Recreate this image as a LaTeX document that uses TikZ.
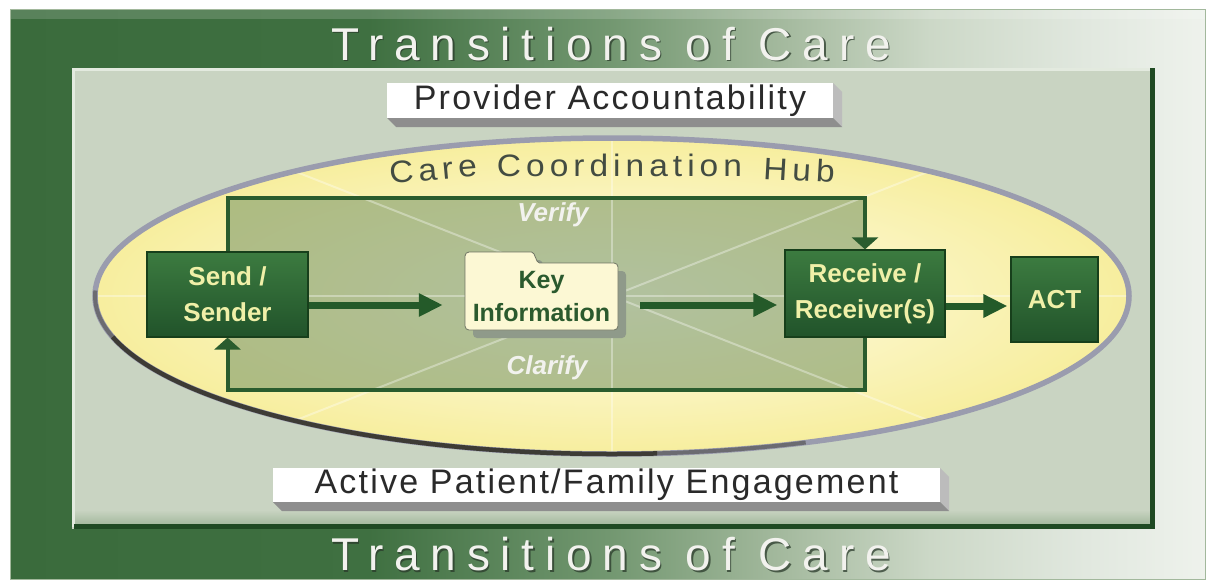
\documentclass[tikz,border=0pt]{standalone}
\usepackage{fontspec}
\setmainfont{Liberation Sans}
\newfontfamily\titlefont[LetterSpace=23.5]{Liberation Sans}
\newfontfamily\bannerfont[LetterSpace=6.5]{Liberation Sans}
\newfontfamily\hubfont[LetterSpace=15]{Liberation Sans}
\usetikzlibrary{arrows.meta}

% palette
\definecolor{fr0}{HTML}{3A6B3C}
\definecolor{fr1}{HTML}{3F7041}
\definecolor{fr2}{HTML}{729770}
\definecolor{fr3}{HTML}{A2B89C}
\definecolor{fr4}{HTML}{CCD8C7}
\definecolor{fr5}{HTML}{E1E8DF}
\definecolor{fr6}{HTML}{EEF2EC}
\definecolor{panel}{HTML}{C9D4C2}
\definecolor{panelhi}{HTML}{E3EADF}
\definecolor{paneldk}{HTML}{1F4A23}
\definecolor{ellin}{HTML}{FFFDEE}
\definecolor{ellout}{HTML}{F7EE9E}
\definecolor{loopfill}{HTML}{7E9A6B}
\definecolor{rimlight}{HTML}{9A9CAE}
\definecolor{rimdark}{HTML}{3D3B35}
\definecolor{loopln}{HTML}{2A5C2E}
\definecolor{arrowc}{HTML}{245A29}
\definecolor{gtop}{HTML}{3C7B40}
\definecolor{gbot}{HTML}{21532A}
\definecolor{gedge}{HTML}{173F1B}
\definecolor{gtext}{HTML}{F0F0A8}
\definecolor{keyfill}{HTML}{FCF8D4}
\definecolor{keyedge}{HTML}{6F7564}
\definecolor{keyshadow}{HTML}{8F9A8A}
\definecolor{keytext}{HTML}{2B5A2E}
\definecolor{slabr}{HTML}{BCBCBC}
\definecolor{slabb}{HTML}{8E8E8E}
\definecolor{labtext}{HTML}{2A2A2A}
\definecolor{hubtext}{HTML}{434C42}
\definecolor{titlec}{HTML}{F2F2EE}
\definecolor{titlesh}{HTML}{2A3A2B}

% frame: dark green on the left fading to pale on the right
\pgfdeclarehorizontalshading{framegrad}{100bp}{%
  color(0bp)=(fr0); color(25bp)=(fr0); color(40bp)=(fr1);
  color(50bp)=(fr2); color(57bp)=(fr3); color(63.5bp)=(fr4);
  color(70bp)=(fr5); color(75bp)=(fr6); color(100bp)=(fr6)}

\begin{document}
\begin{tikzpicture}[x=1pt,y=1pt,
  titletext/.style={text=titlec,font=\titlefont\fontsize{46}{46}\selectfont,anchor=base,inner sep=0pt},
  titleshadow/.style={titletext,text=titlesh,text opacity=.75},
  banner/.style={fill=white,inner sep=0pt,text=labtext,font=\bannerfont\fontsize{34}{34}\selectfont},
  hubword/.style={text=hubtext,font=\hubfont\fontsize{31}{31}\selectfont,anchor=base,inner sep=0pt,xscale=1.08},
  gbox/.style={top color=gtop,bottom color=gbot,draw=gedge,line width=1.2pt,
    text=gtext,font=\bfseries\fontsize{26}{36}\selectfont,align=center,inner sep=0pt},
  keytext/.style={text=keytext,font=\bfseries\fontsize{25}{33}\selectfont,align=center,inner sep=0pt},
  looplabel/.style={text=titlec,font=\bfseries\itshape\fontsize{26}{26}\selectfont,inner sep=0pt},
  bigarrow/.style={draw=arrowc,line width=7pt,-{Triangle[length=24pt,width=22pt]}},
  loopline/.style={draw=loopln,line width=4pt,-{Triangle[length=12pt,width=26pt]}},
  glint/.style={white,opacity=.35,line width=2pt}
]
\useasboundingbox (0,0) rectangle (1212,-581);
\fill[white] (0,0) rectangle (1212,-581);

% outer frame
\shade[shading=framegrad] (10,-9) rectangle (1205,-579);
\fill[white,opacity=.16] (10,-9) rectangle (1205,-19);
\draw[fr3,line width=1pt] (10,-9) rectangle (1205,-579);

% inner panel with bevelled edges
\fill[panel] (72,-68) rectangle (1155,-529);
\shade[top color=panel,bottom color=fr3] (74,-510) rectangle (1150,-525);
\draw[panelhi,line width=3pt] (73.5,-527) -- (73.5,-69.5) -- (1152,-69.5);
\draw[paneldk,line width=5pt] (1152.5,-68) -- (1152.5,-526.5) -- (74,-526.5);

% banner slabs
\fill[slabr] (833,-83) -- (842,-92) -- (842,-127) -- (833,-118) -- cycle;
\fill[slabb] (387,-118) -- (833,-118) -- (842,-127) -- (396,-127) -- cycle;
\node[banner,minimum width=446pt,minimum height=35pt] (prov) at (610,-100.5) {Provider Accountability};
\fill[slabr] (940,-468) -- (949,-477) -- (949,-511) -- (940,-502) -- cycle;
\fill[slabb] (273,-502) -- (940,-502) -- (949,-511) -- (282,-511) -- cycle;
\node[banner,minimum width=667pt,minimum height=34pt] (engage) at (606.5,-485) {Active Patient/Family Engagement};

% hub ellipse
\shade[inner color=ellin,outer color=ellout] (612,-296) ellipse [x radius=517,y radius=158];
\fill[loopfill,fill opacity=.6] (227.5,-199) rectangle (865,-389);
\begin{scope}
  \clip (612,-296) ellipse [x radius=515,y radius=156];
  \draw[glint] (192,-131) -- (1032,-461);
  \draw[glint] (192,-461) -- (1032,-131);
  \draw[glint] (95,-296) -- (1130,-296);
  \draw[glint] (612,-138) -- (612,-454);
\end{scope}
\draw[rimlight,line width=5.5pt] (612,-296) ellipse [x radius=517,y radius=158];
\draw[rimdark,line width=4pt,opacity=.5] ([shift={(612,-296)}]178:517 and 158) arc[start angle=178,end angle=195,x radius=517,y radius=158];
\draw[rimdark,line width=4.5pt] ([shift={(612,-296)}]195:517 and 158) arc[start angle=195,end angle=275,x radius=517,y radius=158];
\draw[rimdark,line width=4pt,opacity=.5] ([shift={(612,-296)}]275:517 and 158) arc[start angle=275,end angle=292,x radius=517,y radius=158];

% hub caption bending with the upper rim
\node[hubword,rotate=5] (hubcare) at (434,-180) {Care};
\node[hubword] (hubcoord) at (619.5,-176.5) {Coordination};
\node[hubword,rotate=-3] (hubhub) at (798.5,-181) {Hub};

% key information folder
\begin{scope}[shift={(541.5,-296.5)}]
  \fill[keyshadow,rounded corners=4pt,shift={(8,-8)}] (-76.5,-33.5) -- (-76.5,44.5) -- (-14,44.5)
    .. controls (-6,44.5) and (-6,33.5) .. (2,33.5) -- (76.5,33.5) -- (76.5,-33.5) -- cycle;
  \filldraw[fill=keyfill,draw=keyedge,line width=.8pt,rounded corners=4pt] (-76.5,-33.5) -- (-76.5,44.5) -- (-14,44.5)
    .. controls (-6,44.5) and (-6,33.5) .. (2,33.5) -- (76.5,33.5) -- (76.5,-33.5) -- cycle;
\end{scope}
\node[keytext,minimum width=153pt,minimum height=67pt] (key) at (541.5,-296.5) {Key\\Information};

% process boxes
\node[gbox,minimum width=161pt,minimum height=85pt] (send) at (227.5,-294.5) {Send /\\Sender};
\node[gbox,minimum width=160pt,minimum height=87pt] (recv) at (865,-293.5) {Receive /\\Receiver(s)};
\node[gbox,minimum width=87pt,minimum height=85pt] (act) at (1054.5,-299.5) {ACT};

% main flow
\draw[bigarrow,shorten >=22pt] ([yshift=-10.5pt]send.east) -- ([yshift=-8.5pt]key.west);
\draw[bigarrow,shorten <=22pt,shorten >=7pt] ([yshift=-8.5pt]key.east) -- ([yshift=-11.5pt]recv.west);
\draw[bigarrow,shorten >=3pt] ([yshift=-12.5pt]recv.east) -- ([yshift=-6.5pt]act.west);

% verify / clarify loop
\draw[loopline] (send.north) -- ++(0,53) -| (recv.north);
\draw[loopline] (recv.south) -- ++(0,-52) -| (send.south);
\node[looplabel] (verify) at (553,-215) {Verify};
\node[looplabel] (clarify) at (547,-368) {Clarify};

% titles
\node[titleshadow] (topsh) at (612.5,-61.5) {Transitions of Care};
\node[titletext] (toptitle) at (611,-60) {Transitions of Care};
\node[titleshadow] (botsh) at (612.5,-572) {Transitions of Care};
\node[titletext] (bottitle) at (611,-570.5) {Transitions of Care};
\end{tikzpicture}
\end{document}
